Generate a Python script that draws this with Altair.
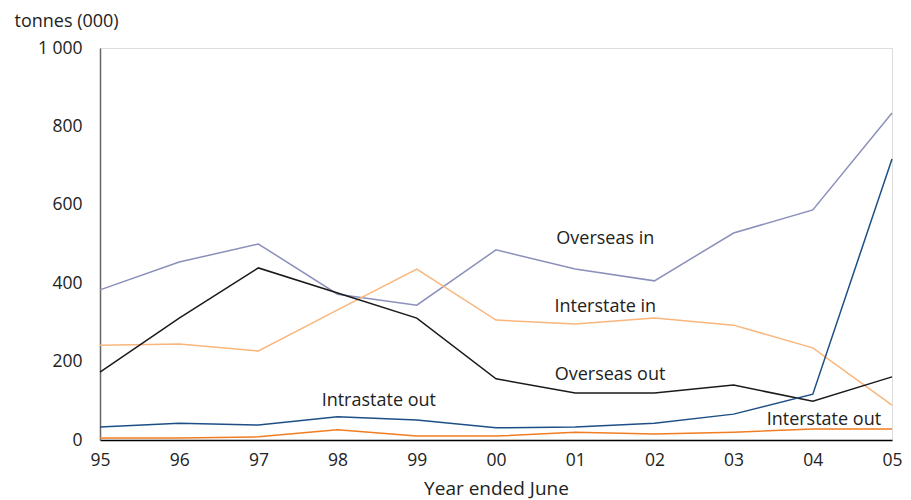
import altair as alt
import pandas as pd

years = [1995, 1996, 1997, 1998, 1999, 2000, 2001, 2002, 2003, 2004, 2005]
overseas_in = [383, 454, 500, 372, 344, 485, 436, 406, 528, 587, 834]
interstate_in = [242, 245, 227, 332, 436, 306, 296, 311, 293, 235, 89]
overseas_out = [173, 311, 439, 375, 311, 156, 120, 120, 140, 99, 161]
intrastate_out = [33, 43, 38, 59, 51, 31, 33, 43, 66, 117, 717]
interstate_out = [5, 5, 8, 26, 10, 10, 20, 15, 20, 28, 28]

series_names = ["Overseas in", "Interstate in", "Overseas out", "Intrastate out", "Interstate out"]
series_values = [overseas_in, interstate_in, overseas_out, intrastate_out, interstate_out]
series_colors = ["#8b90ba", "#f9b67c", "#1a1a1a", "#1d4f86", "#f07d22"]

label_year = [2001.38, 2001.38, 2001.44, 1998.52, 2004.14]
label_value = [513, 339, 166, 99, 51]

rows = []
for name, vals in zip(series_names, series_values):
    for y, v in zip(years, vals):
        rows.append({"year": y, "value": v, "series": name})
df = pd.DataFrame(rows)
labels = pd.DataFrame({"year": label_year, "value": label_value, "text": series_names})

FONT = "Open Sans"

x = alt.X("year:Q", scale=alt.Scale(domain=[1995, 2005], nice=False, zero=False),
          axis=alt.Axis(values=years, labelExpr="slice(toString(datum.value), 2)",
                        title="Year ended June", grid=False, ticks=False,
                        labelFlush=False, labelOverlap=False,
                        domainColor="#000000", domainWidth=1.5,
                        labelFontSize=17.5, labelColor="#222222", labelPadding=11,
                        titleFontSize=19, titleFontWeight="normal", titleColor="#222222",
                        titlePadding=11, labelFont=FONT, titleFont=FONT))
y = alt.Y("value:Q", scale=alt.Scale(domain=[0, 1000], nice=False),
          axis=alt.Axis(values=[0, 200, 400, 600, 800, 1000], format=",.0f",
                        labelExpr="replace(datum.label, ',', ' ')",
                        title="tonnes (000)", titleAngle=0, titleAlign="left",
                        titleX=-86, titleY=-27, titleBaseline="middle",
                        grid=False, ticks=False, domainColor="#666666", domainWidth=1.5,
                        labelFontSize=17.5, labelColor="#222222", labelPadding=18,
                        titleFontSize=18, titleFontWeight="normal", titleColor="#222222",
                        labelFont=FONT, titleFont=FONT))

lines = alt.Chart(df).mark_line(strokeWidth=1.5).encode(
    x=x, y=y,
    color=alt.Color("series:N", scale=alt.Scale(domain=series_names, range=series_colors), legend=None),
    detail="series:N",
)

text = alt.Chart(labels).mark_text(font=FONT, fontSize=18, color="#222222", align="center", baseline="middle").encode(
    x=alt.X("year:Q"), y=alt.Y("value:Q"), text="text:N"
)

chart = alt.layer(lines, text).properties(
    width=792, height=392,
    autosize=alt.AutoSizeParams(type="none"),
    padding={"left": 92, "top": 40, "right": 11, "bottom": 60},
).configure_view(stroke=None).configure(background="white")

chart.save("out.html", embed_options={"renderer": "svg", "actions": False})
